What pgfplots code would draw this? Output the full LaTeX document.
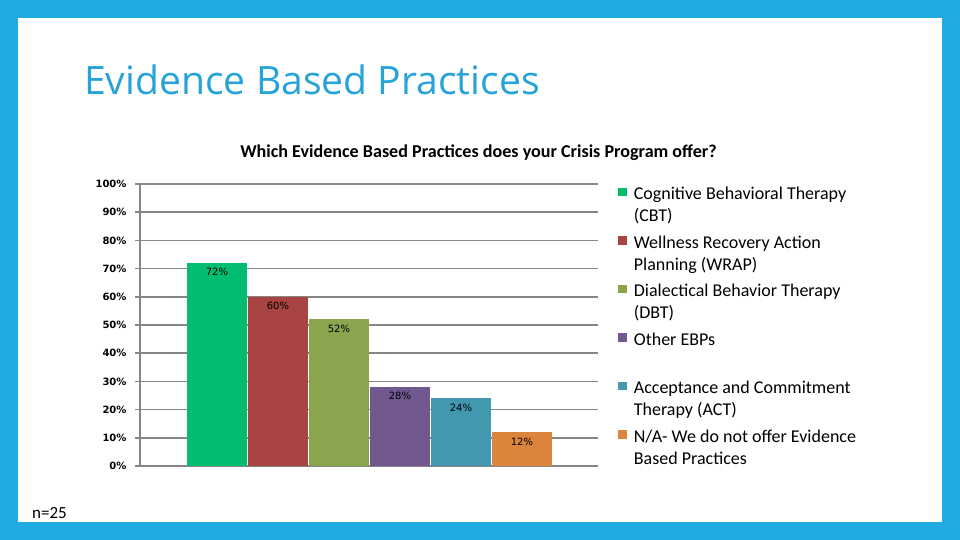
\documentclass[border=0pt]{standalone}
\usepackage{pgfplots}
\pgfplotsset{compat=1.18}
\usepackage{fontspec}
\setmainfont{Carlito}
\newfontfamily\dejavu{DejaVu Sans}
\newfontfamily\titlefont{Open Sans}
\definecolor{frameblue}{RGB}{31,170,225}
\definecolor{titleblue}{RGB}{38,163,216}
\definecolor{gridgray}{RGB}{134,134,134}
\definecolor{cbt}{RGB}{0,189,112}
\definecolor{wrap}{RGB}{168,68,65}
\definecolor{dbt}{RGB}{137,165,78}
\definecolor{other}{RGB}{113,88,143}
\definecolor{act}{RGB}{65,152,175}
\definecolor{na}{RGB}{219,132,61}
\newcommand{\lt}[1]{\hspace*{5pt}\parbox[t]{240pt}{#1}}
\begin{document}
\begin{tikzpicture}[x=1pt,y=1pt]
\useasboundingbox (0,0) rectangle (960,540);
\fill[frameblue] (0,0) rectangle (960,540);
\fill[white] (18,18) rectangle (942,522);
\node[anchor=base west, inner sep=0pt, text=titleblue, font=\titlefont\fontsize{39.1}{46}\selectfont] at (84,445) {Evidence Based Practices};
\node[anchor=base, inner sep=0pt, font=\bfseries\fontsize{18.1}{21}\selectfont] at (478.5,382) {Which Evidence Based Practices does your Crisis Program offer?};
\node[anchor=base west, inner sep=0pt, font=\fontsize{17}{20}\selectfont] at (32,21) {n=25};
\begin{axis}[
  at={(140pt,74pt)}, anchor=south west,
  scale only axis, width=458pt, height=282pt,
  xmin=-0.262, xmax=7.246, ymin=0, ymax=100,
  ybar, bar width=0.98, bar shift=0pt,
  axis lines=left,
  axis line style={draw=gridgray, line width=1.5pt, -},
  xtick=\empty,
  ytick={0,10,20,30,40,50,60,70,80,90,100},
  yticklabels={0\%,10\%,20\%,30\%,40\%,50\%,60\%,70\%,80\%,90\%,100\%},
  yticklabel style={font=\dejavu\bfseries\fontsize{10}{12}\selectfont, text=black, xshift=-5pt},
  tick align=outside, major tick length=5pt,
  tick style={draw=gridgray, line width=1.5pt},
  ymajorgrids, grid style={draw=gridgray, line width=1.5pt},
  /pgf/number format/assume math mode=true,
  nodes near coords={\pgfmathprintnumber{\pgfplotspointmeta}\%},
  every node near coord/.append style={anchor=north, yshift=-2pt, font=\dejavu\fontsize{10}{12}\selectfont, text=black},
  legend image code/.code={\fill[#1] (0pt,-2pt) rectangle (8.5pt,6.5pt);},
  legend cell align=left,
  legend style={at={(1.044,0.997)}, anchor=north west, draw=none, fill=none, inner sep=0pt, row sep=30.5pt,
    font=\fontsize{18}{22}\selectfont},
]
\addplot[fill=cbt, draw=none] coordinates {(1,72)};
\addlegendentry{\lt{Cognitive Behavioral Therapy\\(CBT)}}
\addplot[fill=wrap, draw=none] coordinates {(2,60)};
\addlegendentry{\lt{Wellness Recovery Action\\Planning (WRAP)}}
\addplot[fill=dbt, draw=none] coordinates {(3,52)};
\addlegendentry{\lt{Dialectical Behavior Therapy\\(DBT)}}
\addplot[fill=other, draw=none] coordinates {(4,28)};
\addlegendentry{\lt{Other EBPs}}
\addplot[fill=act, draw=none] coordinates {(5,24)};
\addlegendentry{\lt{Acceptance and Commitment\\Therapy (ACT)}}
\addplot[fill=na, draw=none] coordinates {(6,12)};
\addlegendentry{\lt{N/A- We do not offer Evidence\\Based Practices}}
\end{axis}
\end{tikzpicture}
\end{document}
